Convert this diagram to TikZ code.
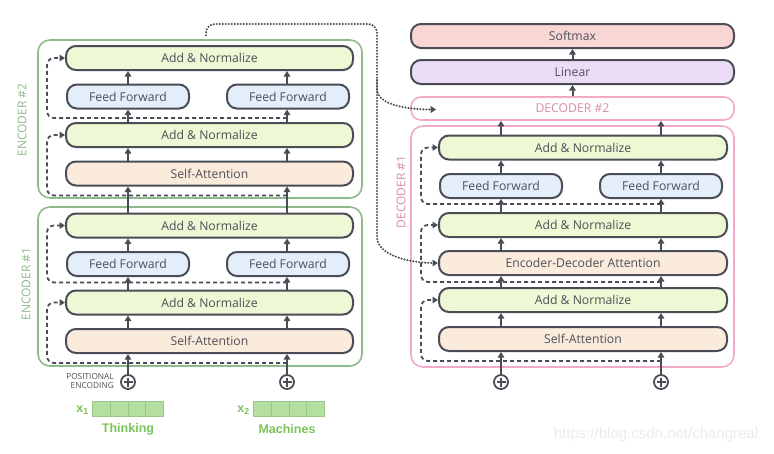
\documentclass[tikz,border=0pt]{standalone}
\usepackage{fontspec}
\setmainfont{Open Sans}
\newfontfamily\arialfont{Liberation Sans}
\usetikzlibrary{arrows.meta,calc}

\definecolor{ink}{HTML}{4A4D55}
\definecolor{txt}{HTML}{4D5058}
\definecolor{addnorm}{HTML}{EDF8D5}
\definecolor{ffwd}{HTML}{E3EEFA}
\definecolor{attn}{HTML}{FBEBDC}
\definecolor{smax}{HTML}{F7D6D4}
\definecolor{lin}{HTML}{ECDDF6}
\definecolor{encgreen}{HTML}{8EBA8B}
\definecolor{declabel}{HTML}{D98BAA}
\definecolor{decpink}{HTML}{F3AACA}
\definecolor{wordgreen}{HTML}{7CC35A}
\definecolor{cellfill}{HTML}{B4DFA0}
\definecolor{celldraw}{HTML}{98C987}
\definecolor{mark}{HTML}{EBEBEB}

\begin{document}
\begin{tikzpicture}[
          x=1pt, y=-1pt,
          box/.style={draw=ink, line width=2pt, rounded corners=10pt, minimum height=24pt, inner sep=0pt,
                      text=txt, font=\fontsize{12.2}{14}\selectfont},
          wide/.style={box, minimum width=287pt},
          ffbox/.style={box, fill=ffwd, minimum width=122pt},
          frame/.style={line width=1.6pt, rounded corners=12pt, inner sep=0pt},
          arr/.style={draw=ink, line width=2pt, -{Triangle[length=5.5pt,width=6.5pt]}},
          resid/.style={draw=ink, line width=1.8pt, dash pattern=on 4pt off 3pt, rounded corners=7pt,
                        -{Triangle[length=5.5pt,width=6.5pt]}},
          link/.style={draw=ink, line width=2.3pt, line cap=round, dash pattern=on 0pt off 3pt, rounded corners=9pt,
                       -{Triangle[length=5.5pt,width=6.5pt]}},
          plus/.style={circle, draw=ink, line width=1.8pt, minimum size=14pt, inner sep=0pt,
                       path picture={\draw[ink, line width=1.8pt]
                         ($(path picture bounding box.center)+(-4.5,0)$) -- ($(path picture bounding box.center)+(4.5,0)$)
                         ($(path picture bounding box.center)+(0,-4.5)$) -- ($(path picture bounding box.center)+(0,4.5)$);}},
          cell/.style={draw=celldraw, fill=cellfill, line width=1pt, minimum width=17.75pt, minimum height=15pt,
                       inner sep=0pt, anchor=west},
          word/.style={text=wordgreen, font=\arialfont\bfseries\fontsize{12.5}{14}\selectfont},
          stacklabel/.style={rotate=90, font=\fontsize{12}{14}\selectfont},
        ]
          \useasboundingbox (0,0) rectangle (774,453);

          % columns
          \coordinate (colA) at (128,0);
          \coordinate (colB) at (287,0);
          \coordinate (colC) at (501,0);
          \coordinate (colD) at (661,0);

          % encoder frames
          \node[frame, draw=encgreen, minimum width=324pt, minimum height=158pt] (enc2) at (200,119) {};
          \node[frame, draw=encgreen, minimum width=324pt, minimum height=159pt] (enc1) at (200,286.5) {};
          \node[stacklabel, text=encgreen] (enc2lbl) at (22,120) {ENCODER \#2};
          \node[stacklabel, text=encgreen] (enc1lbl) at (26,284) {ENCODER \#1};

          % encoder #2
          \node[wide, fill=addnorm] (e2an2) at (209.5,58) {Add \& Normalize};
          \node[ffbox] (e2ffA) at (128,96.5) {Feed Forward};
          \node[ffbox] (e2ffB) at (288,96.5) {Feed Forward};
          \node[wide, fill=addnorm] (e2an1) at (209.5,135) {Add \& Normalize};
          \node[wide, fill=attn] (e2sa) at (209.5,173.5) {Self-Attention};

          % encoder #1
          \node[wide, fill=addnorm] (e1an2) at (209.5,225.5) {Add \& Normalize};
          \node[ffbox] (e1ffA) at (128,264) {Feed Forward};
          \node[ffbox] (e1ffB) at (288,264) {Feed Forward};
          \node[wide, fill=addnorm] (e1an1) at (209.5,302.5) {Add \& Normalize};
          \node[wide, fill=attn] (e1sa) at (209.5,341) {Self-Attention};

          % inputs
          \node[plus] (peA) at (128,382) {};
          \node[plus] (peB) at (287,382) {};
          \node[anchor=east, align=right, inner sep=0pt, text=txt, font=\fontsize{8.3}{9}\selectfont]
            (pelbl) at (114,381) {POSITIONAL\\ENCODING};
          \node[word, anchor=east, inner sep=0pt] (xA) at (89,410) {x\textsubscript{1}};
          \node[word, anchor=east, inner sep=0pt] (xB) at (250,410) {x\textsubscript{2}};
          \foreach \i in {0,...,3} {
            \node[cell] (embA\i) at (92+\i*17.75,408.5) {};
            \node[cell] (embB\i) at (253+\i*17.75,408.5) {};
          }
          \node[word] (wordA) at (128,429) {Thinking};
          \node[word] (wordB) at (287,429) {Machines};

          % decoder
          \node[box, fill=smax, minimum width=323pt] (smax) at (572.5,36) {Softmax};
          \node[box, fill=lin, minimum width=323pt] (lin) at (572.5,72) {Linear};
          \node[box, draw=decpink, line width=1.6pt, minimum width=323pt, minimum height=23pt, text=declabel] (dec2) at (572.5,108.5) {DECODER \#2};
          \node[frame, draw=decpink, minimum width=323pt, minimum height=241pt] (dec1) at (572.5,246.5) {};
          \node[stacklabel, text=declabel] (dec1lbl) at (401,192) {DECODER \#1};

          \node[wide, fill=addnorm, minimum width=288pt] (d1an3) at (583,147.5) {Add \& Normalize};
          \node[ffbox] (d1ffC) at (501,186) {Feed Forward};
          \node[ffbox] (d1ffD) at (661,186) {Feed Forward};
          \node[wide, fill=addnorm, minimum width=288pt] (d1an2) at (583,225) {Add \& Normalize};
          \node[wide, fill=attn, minimum width=288pt] (d1eda) at (583,263) {Encoder-Decoder Attention};
          \node[wide, fill=addnorm, minimum width=288pt] (d1an1) at (583,300) {Add \& Normalize};
          \node[wide, fill=attn, minimum width=288pt] (d1sa) at (583,339) {Self-Attention};
          \node[plus] (pdC) at (501,382) {};
          \node[plus] (pdD) at (661,382) {};

          % solid arrows
          \foreach \c in {A,B} {
            \draw[arr] (pe\c.north) -- (e1sa.south -| col\c);
            \foreach \lo/\hi in {e1sa/e1an1, e1an1/e1ff\c, e1ff\c/e1an2, e1an2/e2sa, e2sa/e2an1, e2an1/e2ff\c, e2ff\c/e2an2}
              \draw[arr] (\lo.north -| col\c) -- (\hi.south -| col\c);
          }
          \foreach \c in {C,D} {
            \draw[arr] (pd\c.north) -- (d1sa.south -| col\c);
            \foreach \lo/\hi in {d1sa/d1an1, d1an1/d1eda, d1eda/d1an2, d1an2/d1ff\c, d1ff\c/d1an3, d1an3/dec2}
              \draw[arr] (\lo.north -| col\c) -- (\hi.south -| col\c);
          }
          \draw[arr] (dec2) -- (lin);
          \draw[arr] (lin) -- (smax);

          % residual connections
          \draw[resid] ($(e1sa.south -| colB)+(0,9)$) -| ($(e1an1.west)+(-18,0)$) -- (e1an1.west);
          \draw[resid] ($(e1an1.north -| colB)+(0,-7)$) -| ($(e1an2.west)+(-18,0)$) -- (e1an2.west);
          \draw[resid] ($(e2sa.south -| colB)+(0,9)$) -| ($(e2an1.west)+(-18,0)$) -- (e2an1.west);
          \draw[resid] ($(e2an1.north -| colB)+(0,-4)$) -| ($(e2an2.west)+(-18,0)$) -- (e2an2.west);
          \draw[resid] ($(d1sa.south -| colD)+(0,9)$) -| ($(d1an1.west)+(-17,0)$) -- (d1an1.west);
          \draw[resid] ($(d1eda.south -| colD)+(0,6)$) -| ($(d1an2.west)+(-17,0)$) -- (d1an2.west);
          \draw[resid] ($(d1ffD.south)+(0,5)$) -| ($(d1an3.west)+(-17,0)$) -- (d1an3.west);

          % encoder output to the decoders
          \coordinate (tap) at (206,0);
          \coordinate (bus) at (377,24);
          \coordinate (split) at (377,80);
          \coordinate (dec2in) at ($(dec2.west)+(26,1)$);
          \draw[link] ($(enc2.north -| tap)+(0,-4)$) |- (bus) -- (split) to[out=-90, in=180] (dec2in);
          \draw[link] (split) -- (377,228) to[out=-90, in=180] (d1eda.west);

          \node[text=mark, font=\arialfont\fontsize{15}{17}\selectfont] (url) at (656,435) {https://blog.csdn.net/changreal};
        \end{tikzpicture}
\end{document}
